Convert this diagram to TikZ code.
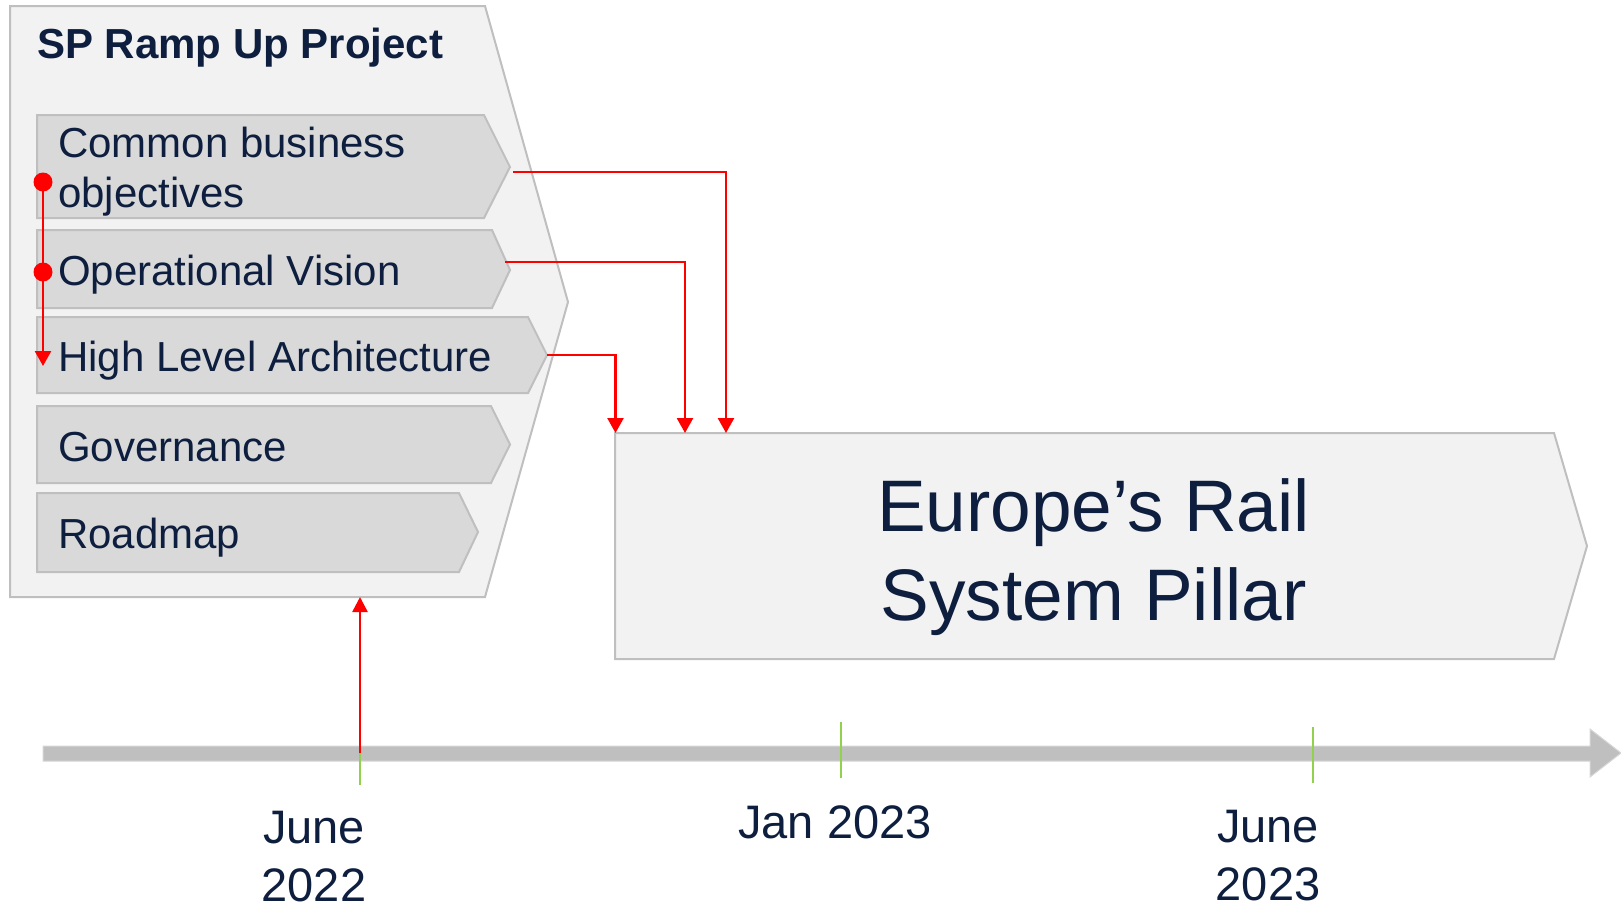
\documentclass[tikz,border=0pt]{standalone}
\usepackage{fontspec}
\setmainfont{Liberation Sans}
\usetikzlibrary{arrows.meta}
\definecolor{navy}{RGB}{14,30,62}
\definecolor{edgegray}{RGB}{191,191,191}
\definecolor{barlight}{RGB}{214,214,214}
\definecolor{boxfill}{RGB}{242,242,242}
\definecolor{chevfill}{RGB}{217,217,217}
\definecolor{tickgreen}{RGB}{146,208,80}
\definecolor{linkred}{RGB}{255,0,0}
\begin{document}
\begin{tikzpicture}[x=1pt,y=-1pt,
  outerbox/.style={draw=edgegray, fill=boxfill, line width=2pt},
  chev/.style={draw=edgegray, fill=chevfill, line width=2pt},
  lbl/.style={text=navy, inner sep=0pt, anchor=base west, align=left,
    font=\fontsize{42}{50}\selectfont},
  titlelbl/.style={text=navy, inner sep=0pt, anchor=base west,
    font=\bfseries\fontsize{42}{50}\selectfont},
  bigtxt/.style={text=navy, inner sep=0pt, anchor=base, align=center,
    font=\fontsize{73}{89}\selectfont},
  datelbl/.style={text=navy, inner sep=0pt, anchor=base, align=center,
    font=\fontsize{47}{58}\selectfont},
  link/.style={draw=linkred, line width=2.5pt, line join=miter,
    -{Triangle[width=16pt,length=15pt]}},
  tick/.style={draw=tickgreen, line width=1.5pt},
  reddot/.style={circle, fill=linkred, inner sep=0pt, minimum size=19pt}
]
\useasboundingbox (0,0) rectangle (1621,906);

% timeline
\fill[edgegray, draw=barlight, line width=1pt]
  (43,746) -- (1590,746) -- (1590,729) -- (1621,753) -- (1590,777)
  -- (1590,761) -- (43,761) -- cycle;
\draw[tick] (360,720) -- (360,785);
\draw[tick] (841,722) -- (841,778);
\draw[tick] (1313,727) -- (1313,783);
\coordinate (june22) at (360,753);

% SP Ramp Up outer box
\draw[outerbox] (10,6) -- (485,6) -- (568,302) -- (485,597) -- (10,597) -- cycle;
\coordinate (spbottom) at (360,597);
\node[titlelbl] (title) at (37,58) {SP Ramp Up Project};

% chevrons
\draw[chev] (37,115) -- (484,115) -- (510,167) -- (484,218) -- (37,218) -- cycle;
\draw[chev] (37,230) -- (492,230) -- (510,270) -- (492,308) -- (37,308) -- cycle;
\draw[chev] (37,317) -- (528,317) -- (547,355) -- (528,393) -- (37,393) -- cycle;
\draw[chev] (37,406) -- (491,406) -- (510,444.5) -- (491,483) -- (37,483) -- cycle;
\draw[chev] (37,493) -- (459,493) -- (478,532) -- (459,572) -- (37,572) -- cycle;

\node[lbl] (cbo) at (58,207) {Common business\\objectives};
\node[lbl] (opv) at (58,285) {Operational Vision};
\node[lbl] (hla) at (58,371) {High Level Architecture};
\node[lbl] (gov) at (58,461) {Governance};
\node[lbl] (rmp) at (58,548) {Roadmap};

% big box
\draw[outerbox] (615,433) -- (1554,433) -- (1587,546) -- (1554,659) -- (615,659) -- cycle;
\node[bigtxt] (ers) at (1093.5,620) {Europe’s Rail\\System Pillar};

% connector anchors
\coordinate (cboout) at (513,172);
\coordinate (opvout) at (505,262);
\coordinate (hlaout) at (547,355);
\coordinate (in1) at (726,433);
\coordinate (in2) at (685,433);
\coordinate (in3) at (615.5,433);

\draw[link] (cboout) -| (in1);
\draw[link] (opvout) -| (in2);
\draw[link] (hlaout) -| (in3);

% left chain
\node[reddot] (dot1) at (43,182) {};
\node[reddot] (dot2) at (43,272) {};
\coordinate (hlain) at (43,366);
\draw[link] (dot1.center) -- (hlain);

% timeline to project
\draw[link, -{Triangle[width=15pt,length=15pt]}] (june22) -- (spbottom);

% dates
\node[datelbl] (d1) at (314,901.5) {June\\2022};
\node[datelbl] (d2) at (835,838) {Jan 2023};
\node[datelbl] (d3) at (1268,900.5) {June\\2023};
\end{tikzpicture}
\end{document}
